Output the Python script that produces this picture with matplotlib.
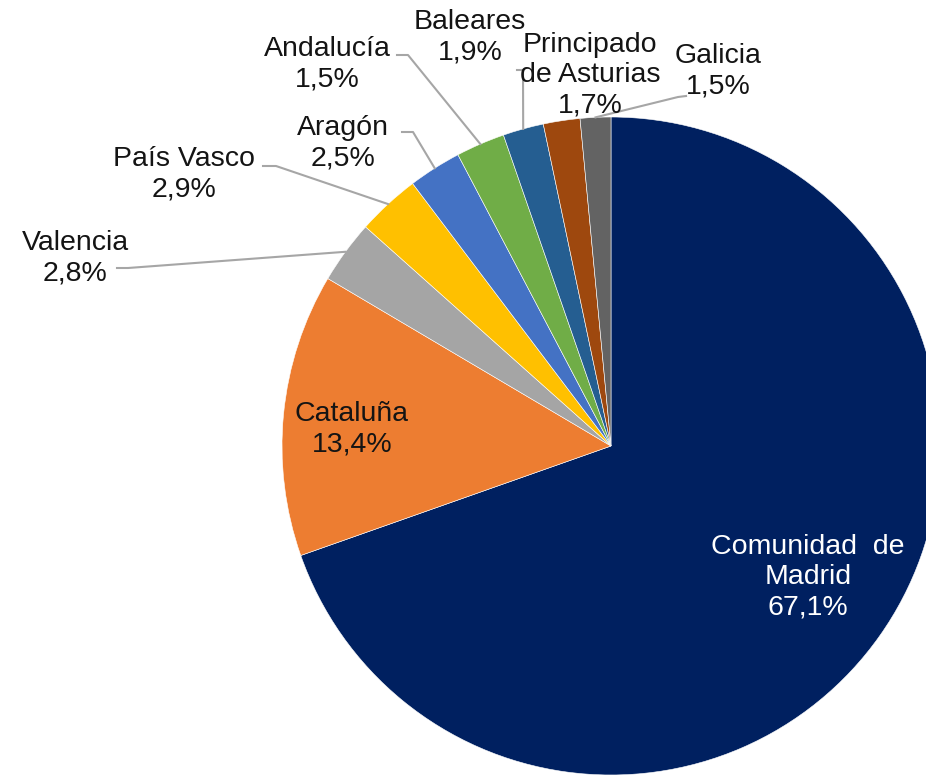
import numpy as np
import matplotlib
matplotlib.use("Agg")
import matplotlib.pyplot as plt

plt.rcParams['font.family'] = ['Liberation Sans', 'DejaVu Sans']

# ---- data ----
regions = ["Comunidad de Madrid", "Cataluña", "Valencia", "País Vasco", "Aragón",
           "Andalucía", "Baleares", "Principado de Asturias", "Galicia"]
# slice sizes as they appear in the picture (share of the circle, %)
slice_shares = [69.6, 13.9, 3.1, 3.1, 2.6, 2.4, 2.0, 1.8, 1.5]
# percentages printed on the labels
label_pct = ["67,1%", "13,4%", "2,8%", "2,9%", "2,5%", "1,5%", "1,9%", "1,7%", "1,5%"]
label_names = ["Comunidad  de\nMadrid", "Cataluña", "Valencia", "País Vasco", "Aragón",
               "Andalucía", "Baleares", "Principado\nde Asturias", "Galicia"]
colors = ["#002060", "#ED7D31", "#A5A5A5", "#FFC000", "#4472C4",
          "#70AD47", "#255E91", "#9E480E", "#636363"]

W, H = 926, 779
fig = plt.figure(figsize=(W / 100, H / 100), dpi=100)
ax = fig.add_axes([0, 0, 1, 1])

def P(x, y):
    return (x, H - y)

cx, cy = P(611, 446)
R = 329
wedges, _ = ax.pie(slice_shares, colors=colors, startangle=90, counterclock=False,
                   center=(cx, cy), radius=R, frame=True,
                   wedgeprops=dict(edgecolor='white', linewidth=0.4))
ax.set_xlim(0, W)
ax.set_ylim(0, H)
ax.set_aspect('equal')
ax.axis('off')

# label positions (pixel space, text block centers)
label_pos = [(808, 577), (352, 429), (75, 258), (184, 174), (343, 143),
             (327, 64), (470, 37), (590, 75), (718, 71)]
# leader lines: (start, kink) in pixel space, None = no leader
leaders = [None, None, ((117, 268), (128, 268)), ((263, 166), (276, 166)),
           ((402, 132), (413, 132)), ((397, 55), (408, 55)),
           ((517, 70), (523, 70)), None, ((686, 96), (678, 97))]

for i, w in enumerate(wedges):
    txt = label_names[i] + "\n" + label_pct[i]
    col = 'white' if i == 0 else '#141414'
    ax.text(*P(*label_pos[i]), txt, ha='center', va='center', fontsize=20.5,
            color=col, linespacing=1.2, zorder=5)
    ld = leaders[i]
    if ld is not None:
        mid = np.deg2rad((w.theta1 + w.theta2) / 2)
        ex, ey = cx + R * np.cos(mid), cy + R * np.sin(mid)
        (sx, sy), (kx, ky) = P(*ld[0]), P(*ld[1])
        ax.plot([sx, kx, ex], [sy, ky, ey], color='#A6A6A6', lw=1.5, zorder=4,
                solid_joinstyle='round')

fig.savefig("out.png", dpi=100)
